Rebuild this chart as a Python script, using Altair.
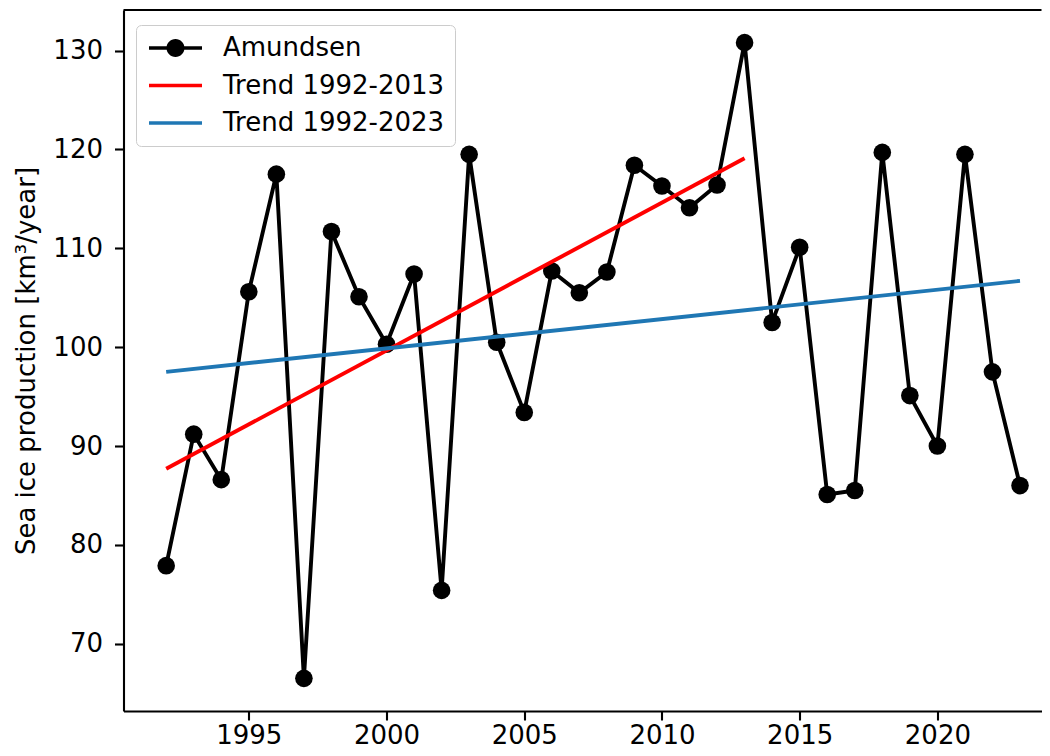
import altair as alt
import pandas as pd

# ---- data ----
years = list(range(1992, 2024))
amundsen = [77.9, 91.2, 86.6, 105.6, 117.5, 66.5, 111.7, 105.1, 100.3, 107.4,
            75.4, 119.5, 100.5, 93.4, 107.7, 105.5, 107.6, 118.4, 116.3, 114.1,
            116.4, 130.8, 102.5, 110.1, 85.1, 85.5, 119.7, 95.1, 90.0, 119.5,
            97.5, 86.0]
trend_a_years = [1992, 2013]
trend_a_vals = [87.7, 119.1]
trend_b_years = [1992, 2023]
trend_b_vals = [97.5, 106.7]
series_names = ["Amundsen", "Trend 1992-2013", "Trend 1992-2023"]
series_colors = ["#000000", "#ff0000", "#1f77b4"]
x_ticks = [1995, 2000, 2005, 2010, 2015, 2020]
y_ticks = [70, 80, 90, 100, 110, 120, 130]
y_title = "Sea ice production [km³/year]"

# ---- styling ----
FONT = "DejaVu Sans"
FS = 26
W, H = 918, 701
LW = 3.9
SPINE = 2.1

df_a = pd.DataFrame({"year": years, "value": amundsen})
df_ta = pd.DataFrame({"year": trend_a_years, "value": trend_a_vals})
df_tb = pd.DataFrame({"year": trend_b_years, "value": trend_b_vals})
df_leg = pd.DataFrame({"series": series_names})

x_scale = alt.Scale(domain=[1990.45, 2023.78], nice=False, zero=False)
y_scale = alt.Scale(domain=[63.2, 134.1], nice=False, zero=False)

x_axis = alt.Axis(values=x_ticks, format="d", title=None, grid=False,
                  domainColor="black", domainWidth=SPINE, tickColor="black",
                  tickWidth=SPINE, tickSize=9, labelPadding=2, labelFontSize=FS,
                  labelFont=FONT, labelColor="black", labelFlush=False,
                  labelOverlap=False)
y_axis = alt.Axis(values=y_ticks, title=y_title, grid=False,
                  domainColor="black", domainWidth=SPINE, tickColor="black",
                  tickWidth=SPINE, tickSize=9, labelPadding=12, labelFontSize=FS,
                  labelFont=FONT, labelColor="black", labelFlush=False,
                  labelOverlap=False, titleFont=FONT, titleFontSize=FS,
                  titleFontWeight="normal", titleColor="black", titleAngle=-90,
                  titleBaseline="alphabetic", titleAlign="center",
                  titleX=-89, titleY=H / 2)

X = alt.X("year:Q", scale=x_scale, axis=x_axis)
Y = alt.Y("value:Q", scale=y_scale, axis=y_axis)

line_path = "M-1,-0.18H4.3V0.18H-1Z"
dot_path = line_path + " M0.75,0A0.9,0.9 0 1,1 2.55,0A0.9,0.9 0 1,1 0.75,0Z"

legend_kw = dict(orient="none", legendX=12.5, legendY=15, title=None,
                 labelFontSize=FS, labelFont=FONT, labelColor="black",
                 labelLimit=500,
                 symbolSize=400, labelOffset=51, rowPadding=11.5, padding=10,
                 fillColor="rgba(255,255,255,0.8)", strokeColor="#cccccc",
                 cornerRadius=5, symbolOpacity=1, symbolStrokeWidth=0)

amu_line = alt.Chart(df_a).mark_line(color=series_colors[0], strokeWidth=LW).encode(x=X, y=Y)
amu_pts = alt.Chart(df_a).mark_point(filled=True, shape="circle", size=310,
                                     color=series_colors[0], opacity=1).encode(x=X, y=Y)
trend_a = alt.Chart(df_ta).mark_line(color=series_colors[1], strokeWidth=LW).encode(x=X, y=Y)
trend_b = alt.Chart(df_tb).mark_line(color=series_colors[2], strokeWidth=LW).encode(x=X, y=Y)

legend_layer = alt.Chart(df_leg).mark_point(filled=True, opacity=0).encode(
    color=alt.Color("series:N",
                    scale=alt.Scale(domain=series_names, range=series_colors),
                    legend=alt.Legend(**legend_kw)),
    shape=alt.Shape("series:N",
                    scale=alt.Scale(domain=series_names,
                                    range=[dot_path, line_path, line_path]),
                    legend=alt.Legend(**legend_kw)),
)
top_border = alt.Chart(pd.DataFrame({"k": [0]})).mark_rule(
    color="black", strokeWidth=SPINE).encode(y=alt.value(0))

chart = alt.layer(amu_line, amu_pts, trend_a, trend_b, legend_layer, top_border).properties(
    width=W, height=H,
    autosize=alt.AutoSizeParams(type="none"),
    padding={"left": 115.5, "top": 2, "right": 0, "bottom": 37},
    background="white",
).configure_view(stroke=None)

chart.save("out.html", embed_options={"renderer": "svg", "actions": False})
